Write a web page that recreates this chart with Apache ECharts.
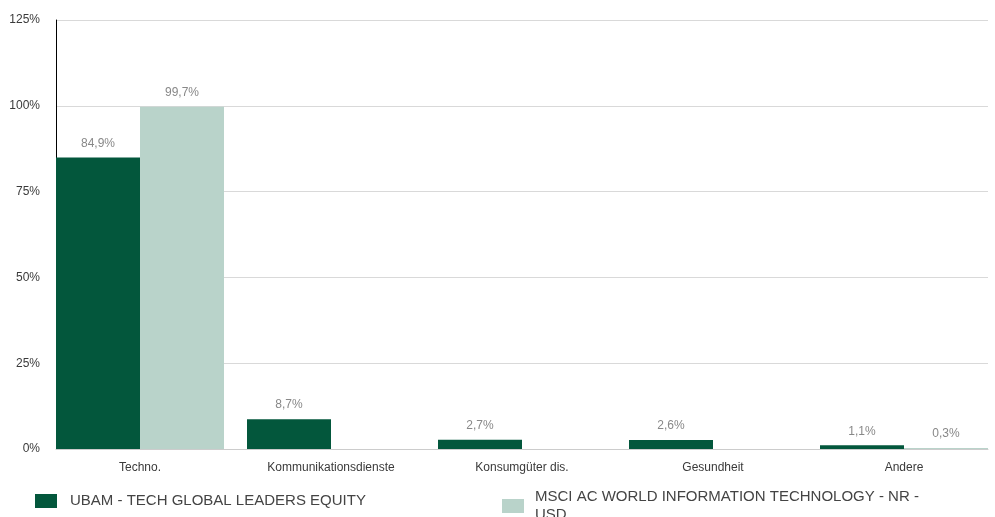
<!DOCTYPE html>
<html>
<head>
<meta charset="utf-8">
<script src="https://cdn.jsdelivr.net/npm/echarts@6/dist/echarts.min.js"></script>
<style>html,body{margin:0;padding:0;background:#fff;}#c{width:995px;height:517px;}</style>
</head>
<body>
<div id="c"></div>
<script>
var categories = ['Techno.', 'Kommunikationsdienste', 'Konsumgüter dis.', 'Gesundheit', 'Andere'];
var fundName = 'UBAM - TECH GLOBAL LEADERS EQUITY';
var benchName = 'MSCI AC WORLD INFORMATION TECHNOLOGY - NR - USD';
var fundValues = [84.9, 8.7, 2.7, 2.6, 1.1];
var benchValues = [99.7, null, null, null, 0.3];
var yTicks = [0, 25, 50, 75, 100, 125];

var FONT = '"Liberation Sans", Arial, sans-serif';
var DARK = '#03573c';
var LIGHT = '#b9d3ca';

function fmt(v) { return String(v.toFixed(1)).replace('.', ',') + '%'; }

var chart = echarts.init(document.getElementById('c'), null, {renderer: 'canvas'});
chart.setOption({
  animation: false,
  textStyle: {fontFamily: FONT},
  grid: [
    {left: 56, right: 7, top: 20, bottom: 68},
    {left: 140, right: 91, top: 20, bottom: 68}
  ],
  legend: [
    {
      left: 30, top: 487, itemWidth: 22, itemHeight: 14,
      icon: 'rect',
      data: [fundName],
      textStyle: {fontFamily: FONT, fontSize: 15, color: '#444', lineHeight: 18, padding: [0, 0, 0, 8]}
    },
    {
      left: 497, top: 483, itemWidth: 22, itemHeight: 14,
      icon: 'rect',
      data: [benchName],
      textStyle: {fontFamily: FONT, fontSize: 15, color: '#444', width: 410, overflow: 'break', lineHeight: 18, padding: [0, 0, 0, 6]}
    }
  ],
  xAxis: [
    {
      type: 'value', gridIndex: 0, min: 0, max: 1,
      axisLabel: {show: false}, axisTick: {show: false}, splitLine: {show: false},
      axisLine: {show: true, lineStyle: {color: '#cccccc', width: 1}}
    },
    {
      type: 'category', gridIndex: 1, data: categories, boundaryGap: false,
      axisLine: {show: false}, axisTick: {show: false},
      axisLabel: {fontFamily: FONT, fontSize: 12, color: '#3a3a3a', margin: 13}
    }
  ],
  yAxis: [
    {
      type: 'value', gridIndex: 0, min: 0, max: 125, interval: 25,
      axisLine: {show: true, lineStyle: {color: '#000', width: 1}},
      axisTick: {show: false},
      axisLabel: {fontFamily: FONT, fontSize: 12, color: '#3a3a3a', margin: 16,
        formatter: function (v) { return yTicks.indexOf(v) >= 0 ? v + '%' : ''; }},
      splitLine: {show: true, lineStyle: {color: '#d9d9d9', width: 1}}
    },
    {
      type: 'value', gridIndex: 1, min: 0, max: 125, interval: 25,
      show: false
    }
  ],
  series: [
    {
      name: fundName, type: 'bar', xAxisIndex: 1, yAxisIndex: 1,
      data: fundValues, barWidth: 84, barGap: '0%',
      itemStyle: {color: DARK},
      label: {show: true, position: 'top', distance: 8, fontFamily: FONT, fontSize: 12, color: '#888',
        formatter: function (p) { return p.value == null ? '' : fmt(p.value); }}
    },
    {
      name: benchName, type: 'bar', xAxisIndex: 1, yAxisIndex: 1,
      data: benchValues, barWidth: 84, barGap: '0%',
      itemStyle: {color: LIGHT},
      label: {show: true, position: 'top', distance: 8, fontFamily: FONT, fontSize: 12, color: '#888',
        formatter: function (p) { return p.value == null ? '' : fmt(p.value); }}
    }
  ]
});
</script>
</body>
</html>
